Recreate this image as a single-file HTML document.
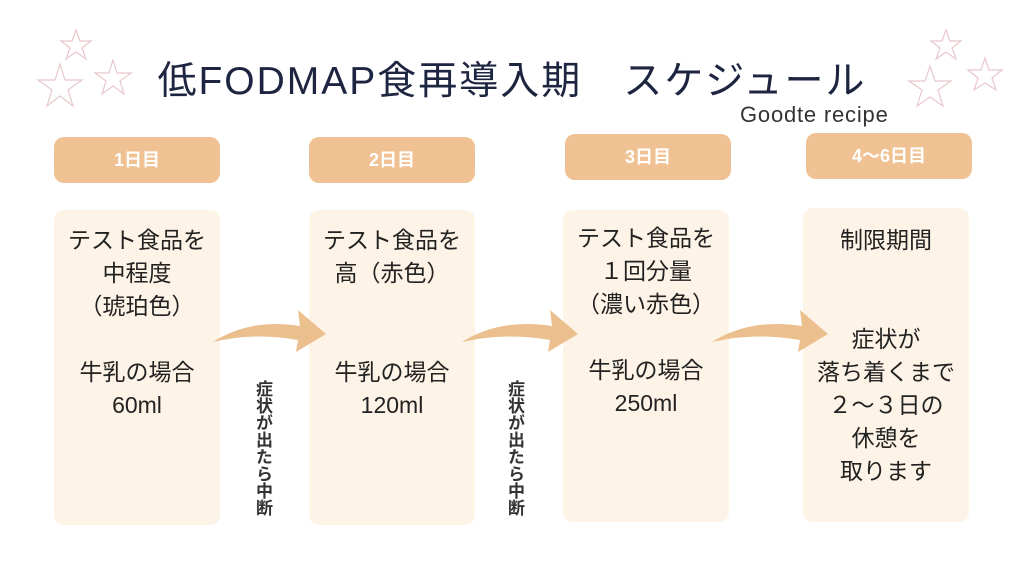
<!DOCTYPE html>
<html><head><meta charset="utf-8"><style>
body{margin:0;width:1024px;height:571px;background:#fff;position:relative;overflow:hidden;font-family:"Liberation Sans","Noto Sans CJK JP",sans-serif;color:#222}
.pill{position:absolute;width:166px;height:46px;background:#f0c193;border-radius:10px;color:#fff;font-weight:bold;font-size:18px;line-height:46px;text-align:center}
.box{position:absolute;width:166px;background:#fdf3e6;border-radius:10px;text-align:center;font-size:23px;line-height:33px;color:#222}
.v{position:absolute;writing-mode:vertical-rl;font-size:17px;color:#333;line-height:17px;font-weight:bold}
.t{position:absolute;width:1024px;left:0;top:50px;text-align:center;font-size:39px;color:#1d2540;letter-spacing:2px}
</style></head><body>
<div class="t">低FODMAP食再導入期　スケジュール</div>
<div style="position:absolute;left:740px;top:102px;font-size:22px;letter-spacing:0.8px;color:#333">Goodte recipe</div>
<div class="pill" style="left:54px;top:137px">1日目</div>
<div class="pill" style="left:309px;top:137px">2日目</div>
<div class="pill" style="left:565px;top:134px">3日目</div>
<div class="pill" style="left:806px;top:133px">4〜6日目</div>
<div class="box" style="left:54px;top:210px;height:315px;padding-top:14px;box-sizing:border-box">テスト食品を<br>中程度<br>（琥珀色）<br><br>牛乳の場合<br>60ml</div>
<div class="box" style="left:309px;top:210px;height:315px;padding-top:14px;box-sizing:border-box">テスト食品を<br>高（赤色）<br><br><br>牛乳の場合<br>120ml</div>
<div class="box" style="left:563px;top:210px;height:312px;padding-top:12px;box-sizing:border-box">テスト食品を<br>１回分量<br>（濃い赤色）<br><br>牛乳の場合<br>250ml</div>
<div class="box" style="left:803px;top:208px;height:314px;padding-top:16px;box-sizing:border-box">制限期間<br><br><br>症状が<br>落ち着くまで<br>２～３日の<br>休憩を<br>取ります</div>
<div class="v" style="left:254px;top:380px">症状が出たら中断</div>
<div class="v" style="left:506px;top:380px">症状が出たら中断</div>
<svg width="1024" height="571" style="position:absolute;left:0;top:0">
<g fill="none" stroke="#e8c8cc" stroke-width="1.2">
<polygon points="76,30 80,41 91,41 82,48 86,59 76,52 66,59 70,48 61,41 72,41"/>
<polygon points="60,64 65,80 82,80 68,90 73,106 60,96 47,106 52,90 38,80 55,80"/>
<polygon points="113,60 117,73 131,73 120,81 124,94 113,86 102,94 106,81 95,73 109,73"/>
<polygon points="946,30 950,41 961,41 952,48 956,59 946,52 936,59 940,48 931,41 942,41"/>
<polygon points="930,66 935,81 951,81 938,90 943,106 930,97 917,106 922,90 909,81 925,81"/>
<polygon points="985,58 989,70 1002,70 992,78 996,90 985,83 974,90 978,78 968,70 981,70"/>
</g>
<g fill="#ecbf8f">
<path d="M213,342 Q250,318 300,326 L298,310 L326,334 L296,352 L298,340 Q255,332 213,342Z"/>
<path d="M462,342 Q500,318 552,326 L550,310 L578,334 L548,352 L550,340 Q505,332 462,342Z"/>
<path d="M712,342 Q750,318 802,326 L800,310 L828,334 L798,352 L800,340 Q755,332 712,342Z"/>
</g>
</svg>
</body></html>
